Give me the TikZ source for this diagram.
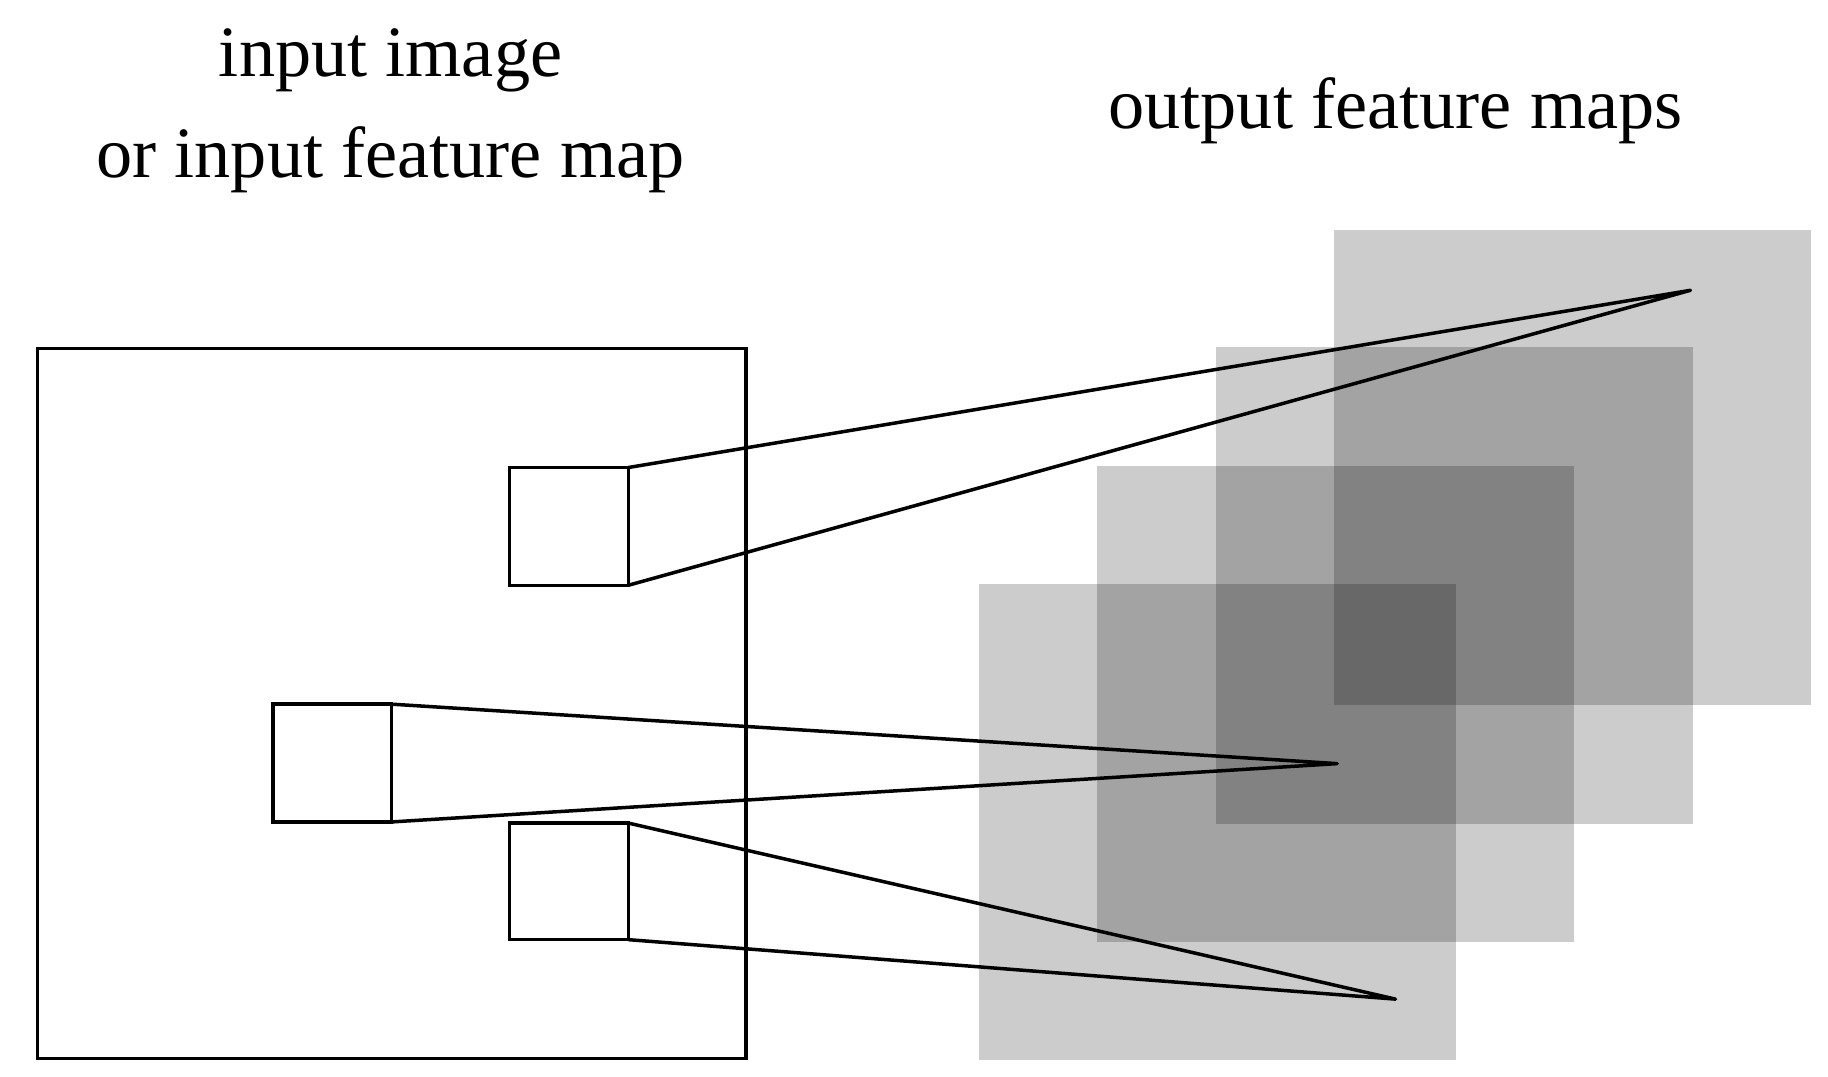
\documentclass[tikz,border=0pt]{standalone}
\usepackage{fontspec}
\setmainfont{Liberation Serif}
\begin{document}
\begin{tikzpicture}[x=0.5pt,y=-0.5pt,
  box/.style={draw=black,line width=1.5pt},
  fm/.style={fill=black,fill opacity=0.2},
  ln/.style={line width=1.5pt},
  lab/.style={font=\fontsize{31}{43}\selectfont,align=center}]
\useasboundingbox (0,0) rectangle (1568,923);
\draw[box] (32,299) rectangle (640,908);
\fill[fm] (840,501) rectangle (1249,909);
\fill[fm] (941,400) rectangle (1350,808);
\fill[fm] (1043,298) rectangle (1452,707);
\fill[fm] (1144,197) rectangle (1553,605);
\draw[box] (437,401) rectangle (539,502);
\draw[box] (234,604) rectangle (336,705);
\draw[box] (437,706) rectangle (539,806);
\coordinate (p1) at (1450,249);
\coordinate (p2) at (1147,655);
\coordinate (p3) at (1197,857);
\draw[ln,line join=round] (539,401) -- (p1) -- (539,502);
\draw[ln,line join=round] (336,604) -- (p2) -- (336,705);
\draw[ln,line join=round] (539,706) -- (p3) -- (539,806);
\node[lab] (t1) at (335,95) {input image\\or input feature map};
\node[lab] (t2) at (1197,95) {output feature maps};
\end{tikzpicture}
\end{document}
